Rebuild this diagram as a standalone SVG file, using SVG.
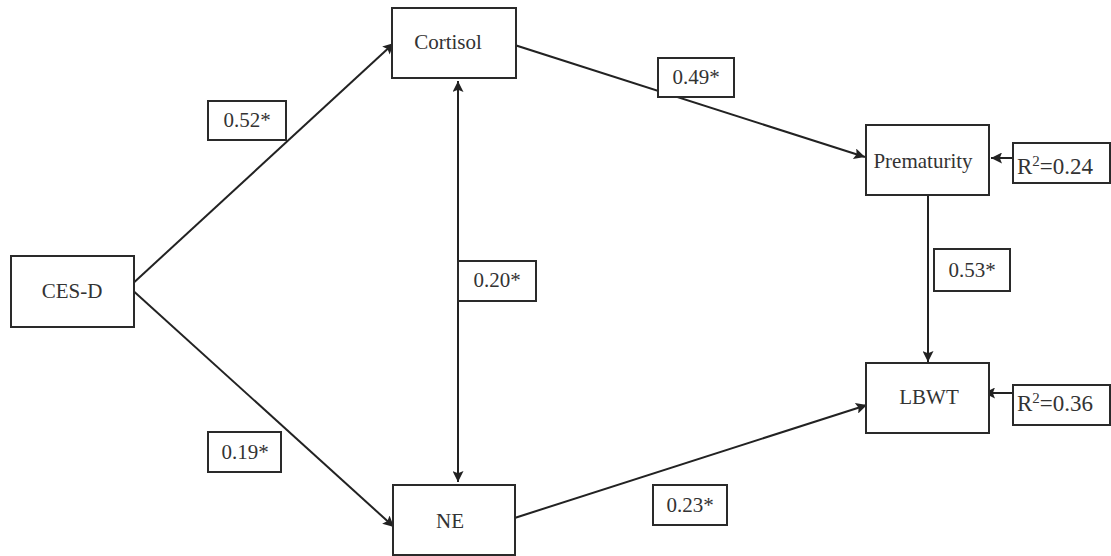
<svg xmlns="http://www.w3.org/2000/svg" width="1111" height="556" viewBox="0 0 1111 556">
<style>
.box{fill:#fff;stroke:#2a2a2a;stroke-width:2}
.lbl{fill:#fff;stroke:#2a2a2a;stroke-width:2}
.t{font-family:"Liberation Serif",serif;font-size:21px;fill:#333;text-anchor:middle;dominant-baseline:central}
.r{font-family:"Liberation Serif",serif;font-size:23px;fill:#333}
.c{stroke:#222;stroke-width:2;fill:none}
</style>
<defs>
<marker id="ah" viewBox="0 0 10 10" refX="10" refY="5" markerWidth="7.5" markerHeight="5.5" markerUnits="strokeWidth" orient="auto-start-reverse">
<path d="M0,0 L10,5 L0,10 L2,5 z" fill="#222"/>
</marker>
</defs>
<rect width="1111" height="556" fill="#fff"/>
<g id="connectors">
<line class="c" x1="129" y1="287" x2="394" y2="43" marker-end="url(#ah)"/>
<line class="c" x1="129" y1="287" x2="394" y2="527" marker-end="url(#ah)"/>
<line class="c" x1="458" y1="81" x2="458" y2="482" marker-start="url(#ah)" marker-end="url(#ah)"/>
<line class="c" x1="502" y1="41" x2="865" y2="157" marker-end="url(#ah)"/>
<line class="c" x1="502" y1="522" x2="867" y2="405" marker-end="url(#ah)"/>
<line class="c" x1="928" y1="195" x2="928" y2="362" marker-end="url(#ah)"/>
<line class="c" x1="1024" y1="158" x2="991" y2="158" marker-end="url(#ah)"/>
<line class="c" x1="1024" y1="393" x2="984" y2="393" marker-end="url(#ah)"/>
</g>
<g id="CES-D"><rect class="box" x="11" y="256" width="123" height="71"/><text class="t" x="72" y="291">CES-D</text></g>
<g id="Cortisol"><rect class="box" x="392" y="8" width="124" height="70"/><text class="t" x="448" y="42">Cortisol</text></g>
<g id="NE"><rect class="box" x="393" y="485" width="122" height="70"/><text class="t" x="450" y="521">NE</text></g>
<g id="Prematurity"><rect class="box" x="866" y="125" width="123" height="70"/><text class="t" x="923" y="161">Prematurity</text></g>
<g id="LBWT"><rect class="box" x="866" y="363" width="123" height="70"/><text class="t" x="929" y="397">LBWT</text></g>
<g id="R2-prematurity"><rect class="lbl" x="1013" y="143" width="97" height="40"/><text class="r" x="1017" y="174">R<tspan dy="-8" font-size="15">2</tspan><tspan dy="8">=0.24</tspan></text></g>
<g id="R2-lbwt"><rect class="lbl" x="1013" y="385" width="97" height="40"/><text class="r" x="1017" y="411">R<tspan dy="-8" font-size="15">2</tspan><tspan dy="8">=0.36</tspan></text></g>
<g id="label-052"><rect class="lbl" x="208" y="101" width="78" height="39"/><text class="t" x="247" y="120">0.52*</text></g>
<g id="label-019"><rect class="lbl" x="208" y="432" width="73" height="40"/><text class="t" x="245" y="452">0.19*</text></g>
<g id="label-020"><rect class="lbl" x="458" y="261" width="78" height="40"/><text class="t" x="497" y="280">0.20*</text></g>
<g id="label-049"><rect class="lbl" x="658" y="58" width="76" height="39"/><text class="t" x="696" y="77">0.49*</text></g>
<g id="label-053"><rect class="lbl" x="934" y="249" width="76" height="42"/><text class="t" x="972" y="270">0.53*</text></g>
<g id="label-023"><rect class="lbl" x="653" y="485" width="74" height="40"/><text class="t" x="690" y="505">0.23*</text></g>
</svg>
